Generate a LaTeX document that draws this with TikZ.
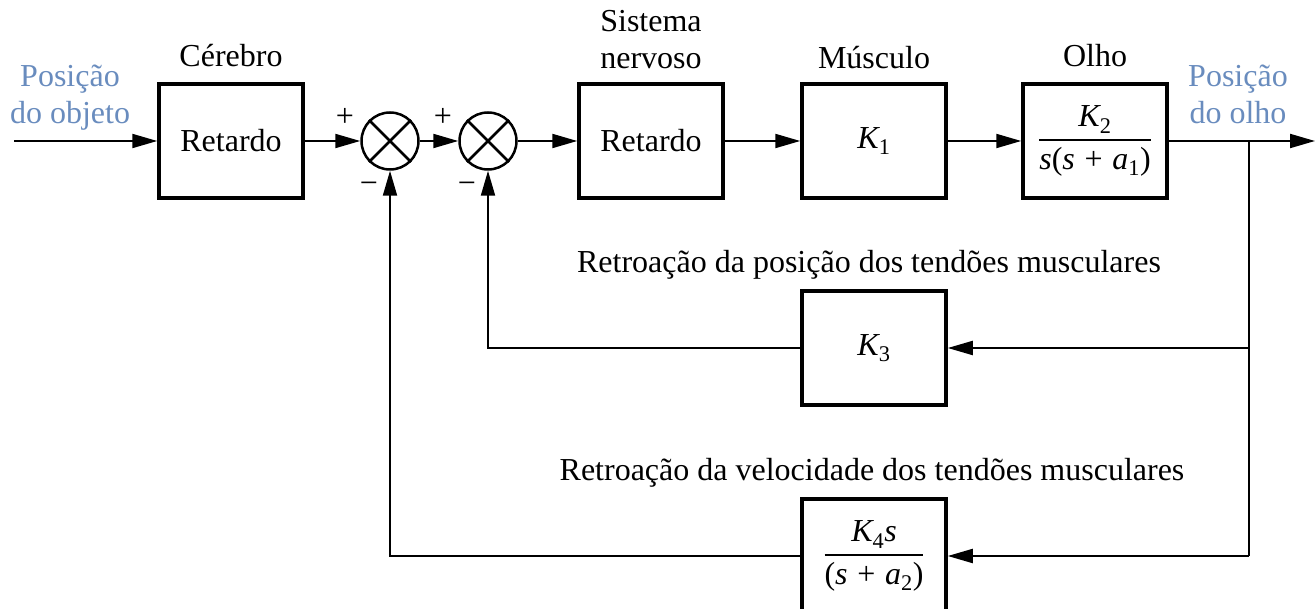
\documentclass[tikz,border=0pt]{standalone}
\usepackage{fontspec}
\usepackage{amsmath}
\setmainfont{Liberation Serif}
\usetikzlibrary{arrows.meta}
\definecolor{lblue}{RGB}{105,140,190}
\newcommand{\vi}[1]{\textit{#1}}
\newcommand{\vr}[1]{\textrm{#1}}
\newcommand{\tfr}[2]{\genfrac{}{}{2pt}{0}{#1}{#2}}
\newcommand{\plusop}{\mathbin{\,\vr{+}\,}}
\begin{document}
\begin{tikzpicture}[x=1pt,y=-1pt,
  font=\fontsize{32}{37}\selectfont,
  blk/.style={draw, line width=3.5pt, minimum width=144pt, minimum height=114pt, inner sep=0pt},
  sumj/.style={draw, circle, line width=2.5pt, minimum size=57pt, inner sep=0pt},
  con/.style={line width=2pt},
  arr/.style={con, -{Triangle[length=25pt,width=14pt]}},
  lbl/.style={anchor=base, inner sep=0pt},
  io/.style={lbl, text=lblue},
  sgn/.style={font=\fontsize{32}{34}\selectfont, inner sep=0pt}]
\useasboundingbox (0,0) rectangle (1316,609);
\clip (0,0) rectangle (1316,609);

% forward path
\node[blk] (b1) at (231,141) {Retardo};
\node[lbl] (l1) at (231,67) {Cérebro};
\node[sumj] (s1) at (390,141) {};
\node[sumj] (s2) at (488,141) {};
\draw[line width=2.5pt] (s1.45) -- (s1.225) (s1.135) -- (s1.-45);
\draw[line width=2.5pt] (s2.45) -- (s2.225) (s2.135) -- (s2.-45);
\node[blk] (b2) at (651,141) {Retardo};
\node[lbl] (l2a) at (651,32) {Sistema};
\node[lbl] (l2b) at (651,69) {nervoso};
\node[blk] (b3) at (874,141) {$\vi{K}_{\vr{1}}$};
\node[lbl] (l3) at (874,69) {Músculo};
\node[blk] (b4) at (1095,141) {$\tfr{\vi{K}_{\vr{2}}}{\vi{s}\vr{(}\vi{s}\plusop\vi{a}_{\vr{1}}\vr{)}}$};
\node[lbl] (l4) at (1095,67) {Olho};

% signs
\node[sgn] (p1) at (345,117) {+};
\node[sgn] (p2) at (443,117) {+};
\node[sgn] (m1) at (369,188) {−};
\node[sgn] (m2) at (467,188) {−};

% input / output labels
\node[io] (in1) at (70,87) {Posição};
\node[io] (in2) at (70,124) {do objeto};
\node[io] (out1) at (1238,87) {Posição};
\node[io] (out2) at (1238,124) {do olho};

% feedback blocks
\node[blk] (k3) at (874,348) {$\vi{K}_{\vr{3}}$};
\node[lbl] (fl3) at (869,273) {Retroação da posição dos tendões musculares};
\node[blk] (k4) at (874,556) {$\tfr{\vi{K}_{\vr{4}}\vi{s}}{\vr{(}\vi{s}\plusop\vi{a}_{\vr{2}}\vr{)}}$};
\node[lbl] (fl4) at (872,480) {Retroação da velocidade dos tendões musculares};

% coordinates
\coordinate (in) at (14,141);
\coordinate (out) at (1315,141);
\coordinate (tap) at (1249,141);
\coordinate (t3) at (1249,348);
\coordinate (t4) at (1249,556);

% connectors
\draw[arr] (in) -- (b1.west);
\draw[arr] (b1.east) -- (s1.west);
\draw[arr] (s1.east) -- (s2.west);
\draw[arr] (s2.east) -- (b2.west);
\draw[arr] (b2.east) -- (b3.west);
\draw[arr] (b3.east) -- (b4.west);
\draw[arr] (b4.east) -- (out);
\draw[con] (tap) -- (t4);
\draw[arr] (t3) -- (k3.east);
\draw[arr] (t4) -- (k4.east);
\draw[arr] (k3.west) -| (s2.south);
\draw[arr] (k4.west) -| (s1.south);
\end{tikzpicture}
\end{document}
